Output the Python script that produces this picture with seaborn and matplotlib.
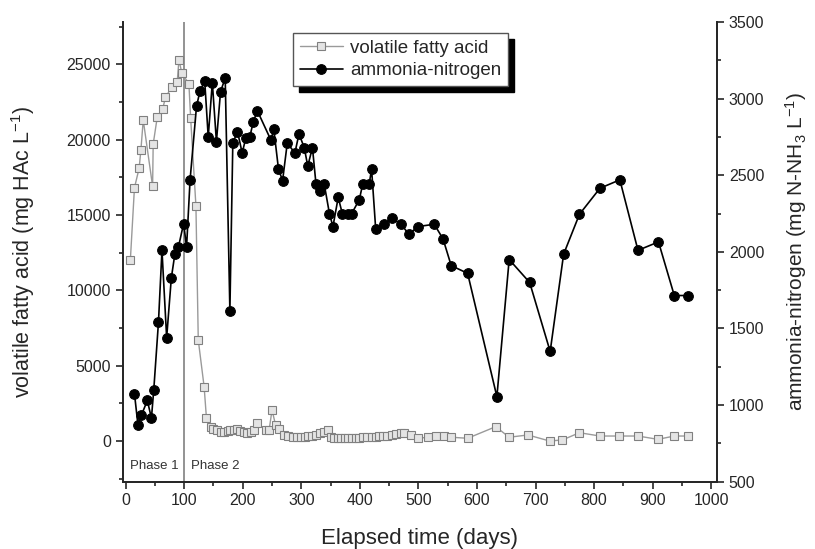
import matplotlib
matplotlib.use("Agg")
import matplotlib.pyplot as plt
import seaborn as sns
import pandas as pd
from matplotlib.ticker import MultipleLocator

# volatile fatty acid (left axis)
vfa_days = [8, 15, 23, 26, 30, 46, 47, 54, 63, 68,
            79, 88, 91, 96, 108, 111, 120, 124, 134, 138,
            145, 150, 156, 162, 168, 174, 179, 185, 191, 196,
            202, 208, 214, 220, 225, 240, 245, 250, 256, 262,
            271, 278, 285, 292, 299, 306, 312, 318, 325, 332,
            338, 345, 350, 356, 362, 368, 374, 380, 386, 393,
            399, 405, 412, 420, 427, 433, 440, 447, 455, 462,
            470, 476, 487, 499, 516, 530, 544, 556, 584, 632,
            655, 687, 724, 746, 775, 810, 843, 875, 909, 937,
            961]
vfa = [12000, 16800, 18100, 19300, 21300, 16900, 19700, 21500, 22000, 22800,
       23500, 23800, 25300, 24400, 23700, 21400, 15600, 6700, 3600, 1500,
       950, 800, 700, 600, 620, 650, 730, 700, 780, 650,
       620, 550, 620, 700, 1170, 700, 730, 2060, 1060, 800,
       400, 350, 290, 290, 290, 290, 350, 350, 400, 500,
       600, 730, 250, 180, 180, 180, 180, 200, 200, 200,
       200, 250, 250, 250, 250, 300, 300, 350, 400, 450,
       500, 510, 400, 180, 250, 300, 300, 250, 180, 950,
       250, 400, 0, 70, 550, 330, 330, 330, 110, 330,
       330]

# ammonia-nitrogen (right axis)
nh3_days = [15, 21, 27, 37, 44, 48, 56, 62, 70, 78,
            84, 90, 99, 104, 110, 121, 127, 135, 141, 148,
            155, 162, 170, 178, 183, 191, 199, 205, 212, 218,
            225, 248, 253, 261, 268, 276, 289, 296, 305, 311,
            319, 325, 332, 339, 348, 354, 363, 370, 379, 386,
            399, 405, 416, 420, 427, 441, 455, 470, 484, 499,
            527, 542, 556, 584, 634, 655, 690, 725, 748, 775,
            810, 844, 875, 910, 937, 961]
nh3 = [1075, 870, 935, 1030, 915, 1100, 1540, 2010, 1440, 1830,
       1985, 2030, 2185, 2030, 2470, 2950, 3050, 3115, 2750, 3105,
       2720, 3045, 3135, 1615, 2710, 2785, 2645, 2740, 2750, 2850,
       2920, 2730, 2800, 2540, 2465, 2710, 2645, 2770, 2680, 2560,
       2680, 2445, 2400, 2445, 2250, 2165, 2355, 2250, 2250, 2250,
       2340, 2445, 2445, 2540, 2150, 2180, 2220, 2180, 2115, 2165,
       2180, 2085, 1910, 1860, 1055, 1950, 1800, 1350, 1985, 2245,
       2415, 2470, 2010, 2065, 1715, 1715]

vfa_df = pd.DataFrame({"day": vfa_days, "vfa": vfa})
nh3_df = pd.DataFrame({"day": nh3_days, "nh3": nh3})

sns.set_style("ticks")
plt.rcParams['font.family'] = ['Liberation Sans', 'DejaVu Sans']
plt.rcParams['mathtext.fontset'] = 'custom'
plt.rcParams['mathtext.rm'] = 'Liberation Sans'
plt.rcParams['mathtext.it'] = 'Liberation Sans'

fig = plt.figure(figsize=(8.15, 5.49), dpi=100)
ax = fig.add_axes([0.1506, 0.1226, 0.7292, 0.8373])

sns.lineplot(data=vfa_df, x="day", y="vfa", ax=ax, color="#9a9a9a", lw=1,
             marker="s", markersize=6, markerfacecolor="#e4e4e4",
             markeredgecolor="#808080", markeredgewidth=0.8,
             estimator=None, sort=False, label="volatile fatty acid")

ax2 = ax.twinx()
sns.lineplot(data=nh3_df, x="day", y="nh3", ax=ax2, color="black", lw=1.2,
             marker="o", markersize=7, markerfacecolor="black",
             markeredgecolor="black", estimator=None, sort=False,
             label="ammonia-nitrogen")

ax.axvline(100, color="#808080", lw=1.2, zorder=0)
ax.text(8, -1650, "Phase 1", fontsize=9.5, va="center", color="#333333")
ax.text(112, -1650, "Phase 2", fontsize=9.5, va="center", color="#333333")

ax.set_xlim(-5, 1010)
ax.set_ylim(-2700, 27800)
ax2.set_ylim(500, 3500)
ax.xaxis.set_major_locator(MultipleLocator(100))
ax.xaxis.set_minor_locator(MultipleLocator(50))
ax.yaxis.set_major_locator(MultipleLocator(5000))
ax.yaxis.set_minor_locator(MultipleLocator(2500))
ax2.yaxis.set_major_locator(MultipleLocator(500))
ax2.yaxis.set_minor_locator(MultipleLocator(250))

for a in (ax, ax2):
    a.tick_params(which="major", direction="out", length=5, width=1.2, labelsize=11.5)
    a.tick_params(which="minor", direction="out", length=3, width=1.2)
    a.spines["top"].set_visible(False)
    for s in a.spines.values():
        s.set_linewidth(1.3)

ax.set_xlabel("Elapsed time (days)", fontsize=16)
ax.set_ylabel("volatile fatty acid (mg HAc L$^{-1}$)", fontsize=15.5)
ax2.set_ylabel("ammonia-nitrogen (mg N-NH$_3$ L$^{-1}$)", fontsize=15)
ax.xaxis.set_label_coords(0.5, -0.1)
ax.yaxis.set_label_coords(-0.145, 0.5)
ax2.yaxis.set_label_coords(1.112, 0.5)

h1, l1 = ax.get_legend_handles_labels()
h2, l2 = ax2.get_legend_handles_labels()
ax.get_legend().remove()
ax2.legend(h1 + h2, l1 + l2, loc="upper left", bbox_to_anchor=(0.2866, 0.976),
           borderaxespad=0, fontsize=13.5, frameon=True, fancybox=False,
           framealpha=1, edgecolor="#555555", handlelength=2.3,
           borderpad=0.35, labelspacing=0.3, handletextpad=0.4,
           shadow={"ox": 4.5, "oy": -4.5, "facecolor": "black",
                   "edgecolor": "black", "alpha": 1})

fig.savefig("out.png", dpi=100)
